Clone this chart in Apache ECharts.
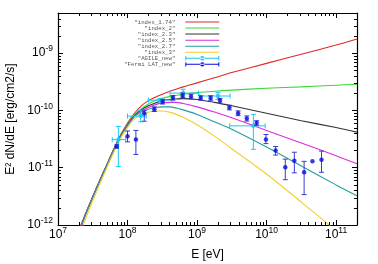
<!DOCTYPE html>
<html><head><meta charset="utf-8">
<script src="https://cdn.jsdelivr.net/npm/echarts@6/dist/echarts.min.js"></script>
<style>html,body{margin:0;padding:0;background:#fff}#c{width:378px;height:264px}</style>
</head><body><div id="c"></div>
<script>
// ---- data ----
const energy = [2.0e7,2.24e7,2.51e7,3.16e7,3.98e7,5.01e7,6.31e7,7.94e7,1.0e8,1.26e8,1.58e8,2.0e8,2.51e8,3.16e8,3.98e8,5.01e8,6.31e8,1.0e9,1.78e9,3.16e9,1.0e10,3.16e10,1.0e11,2.0e11];
const index174 = [8.32e-13,1.15e-12,1.62e-12,3.16e-12,6.03e-12,1.12e-11,2.09e-11,3.72e-11,6.03e-11,8.91e-11,1.20e-10,1.48e-10,1.70e-10,1.91e-10,2.14e-10,2.34e-10,2.57e-10,3.02e-10,3.72e-10,4.57e-10,6.61e-10,9.55e-10,1.38e-9,1.76e-9];
const index2   = [7.76e-13,1.10e-12,1.58e-12,3.09e-12,5.89e-12,1.10e-11,2.04e-11,3.63e-11,5.75e-11,8.32e-11,1.07e-10,1.29e-10,1.48e-10,1.62e-10,1.74e-10,1.82e-10,1.91e-10,2.04e-10,2.16e-10,2.26e-10,2.43e-10,2.57e-10,2.75e-10,2.86e-10];
const index23  = [7.70e-13,1.09e-12,1.57e-12,3.07e-12,5.86e-12,1.09e-11,2.03e-11,3.60e-11,5.62e-11,8.13e-11,1.02e-10,1.20e-10,1.35e-10,1.48e-10,1.55e-10,1.58e-10,1.60e-10,1.55e-10,1.38e-10,1.20e-10,8.91e-11,6.61e-11,5.01e-11,4.17e-11];
const index25  = [7.60e-13,1.08e-12,1.56e-12,3.05e-12,5.82e-12,1.08e-11,2.01e-11,3.57e-11,5.50e-11,7.94e-11,9.77e-11,1.12e-10,1.26e-10,1.35e-10,1.38e-10,1.38e-10,1.32e-10,1.15e-10,9.33e-11,7.41e-11,4.47e-11,2.69e-11,1.62e-11,1.17e-11];
const index27  = [7.50e-13,1.07e-12,1.55e-12,3.03e-12,5.78e-12,1.07e-11,2.00e-11,3.54e-11,5.37e-11,7.76e-11,9.33e-11,1.05e-10,1.12e-10,1.15e-10,1.15e-10,1.10e-10,1.02e-10,8.51e-11,6.31e-11,4.68e-11,2.29e-11,1.07e-11,5.01e-12,3.24e-12];
const index3   = [6.31e-13,8.91e-13,1.32e-12,2.63e-12,5.13e-12,9.77e-12,1.82e-11,3.24e-11,5.01e-11,7.08e-11,8.51e-11,9.33e-11,9.77e-11,9.77e-11,9.33e-11,8.51e-11,7.59e-11,5.62e-11,3.55e-11,2.14e-11,7.76e-12,2.51e-12,7.94e-13,3.98e-13];

const agileE   = [7.38e7,1.55e8,2.95e8,6.31e8,2.0e9,6.46e9];
const agileELo = [6.03e7,1.0e8,2.0e8,4.07e8,1.1e9,2.95e9];
const agileEHi = [9.44e7,1.86e8,4.37e8,1.05e9,2.99e9,9.55e9];
const agileF   = [3.09e-11,7.94e-11,1.51e-10,2.0e-10,1.78e-10,5.37e-11];
const agileFLo = [1.05e-11,6.31e-11,1.41e-10,1.70e-10,1.55e-10,2.09e-11];
const agileFHi = [5.25e-11,1.0e-10,1.62e-10,2.34e-10,2.04e-10,8.51e-11];

const fermiE  = [7.0e7,1.0e8,1.32e8,1.74e8,2.43e8,3.2e8,4.5e8,6.2e8,8.2e8,1.13e9,1.57e9,2.14e9,2.92e9,3.9e9,5.2e9,7.2e9,9.8e9,1.35e10,1.86e10,2.51e10,3.47e10,4.57e10,6.17e10];
const fermiF  = [2.34e-11,3.55e-11,3.09e-11,8.91e-11,1.05e-10,1.41e-10,1.66e-10,1.82e-10,1.74e-10,1.64e-10,1.64e-10,1.48e-10,1.12e-10,8.91e-11,7.24e-11,6.03e-11,3.09e-11,2.0e-11,1.02e-11,1.32e-11,8.32e-12,1.29e-11,1.38e-11];
const fermiLo = [2.2e-11,2.82e-11,1.70e-11,6.46e-11,9.55e-11,1.29e-10,1.51e-10,1.66e-10,1.58e-10,1.50e-10,1.50e-10,1.35e-10,1.02e-10,8.1e-11,6.5e-11,5.5e-11,2.63e-11,1.66e-11,6.17e-12,8.13e-12,3.39e-12,1.29e-11,8.32e-12];
const fermiHi = [2.5e-11,4.37e-11,4.47e-11,1.0e-10,1.15e-10,1.55e-10,1.82e-10,2.0e-10,1.91e-10,1.80e-10,1.80e-10,1.62e-10,1.23e-10,9.8e-11,8.0e-11,6.6e-11,3.8e-11,2.34e-11,1.41e-11,1.86e-11,1.29e-11,1.29e-11,1.95e-11];

const xDecades = [1e7,1e8,1e9,1e10,1e11];
const yDecades = [1e-12,1e-11,1e-10,1e-9];
const minorMult = [2,3,4,5,6,7,8,9];

const modelNames  = ['"index_1.74"','"index_2"','"index_2.3"','"index_2.5"','"index_2.7"','"index_3"'];
const modelValues = [index174,index2,index23,index25,index27,index3];
const modelColors = ['#e02828','#3ad83a','#333333','#dc2edc','#259e9e','#f2d02a'];
const AGILE_NAME = '"AGILE_new"', FERMI_NAME = '"Fermi LAT_new"';
const AGILE_COLOR = '#18c8f0', FERMI_COLOR = '#0a0ae6', FERMI_BAR = '#3a3ad0';

// ---- chart ----
const X_MIN = 1e7, X_MAX = 2e11, Y_MIN = 1e-12, Y_MAX = 5e-9;
const FONT = 'Liberation Sans';
function powLabel(v){
  const e = Math.log10(v), r = Math.round(e);
  if (Math.abs(e - r) > 1e-6) return '';
  return '{b|10}{s|' + r + '}';
}
const rich = {
  b:{fontSize:12, fontFamily:FONT, color:'#000', lineHeight:14},
  s:{fontSize:8.5, fontFamily:FONT, color:'#000', lineHeight:10, padding:[0,0,8,0]}
};

const minorX = [], minorY = [];
xDecades.forEach(d => minorMult.forEach(m => { const v = d*m; if (v < X_MAX) minorX.push([v, Y_MIN]); }));
yDecades.forEach(d => minorMult.forEach(m => { const v = d*m; if (v < Y_MAX) minorY.push([X_MIN, v]); }));

const tickStyle = {stroke:'#000', lineWidth:1};
function minorXRender(params, api){
  const cs = params.coordSys, p = api.coord([api.value(0), api.value(1)]);
  const x = Math.round(p[0]) + 0.5, b = cs.y + cs.height, t = cs.y;
  return {type:'group', children:[
    {type:'line', shape:{x1:x, y1:b, x2:x, y2:b-3}, style:tickStyle},
    {type:'line', shape:{x1:x, y1:t, x2:x, y2:t+3}, style:tickStyle}]};
}
function minorYRender(params, api){
  const cs = params.coordSys, p = api.coord([api.value(0), api.value(1)]);
  const y = Math.round(p[1]) + 0.5, l = cs.x, r = cs.x + cs.width;
  return {type:'group', children:[
    {type:'line', shape:{x1:l, y1:y, x2:l+3, y2:y}, style:tickStyle},
    {type:'line', shape:{x1:r, y1:y, x2:r-3, y2:y}, style:tickStyle}]};
}
function fermiBarRender(params, api){
  const x = api.value(0), lo = api.value(2), hi = api.value(3);
  if (lo === hi) return null;
  const a = api.coord([x, lo]), b = api.coord([x, hi]), c = 2.5;
  const st = {stroke:FERMI_BAR, lineWidth:1};
  return {type:'group', children:[
    {type:'line', shape:{x1:a[0], y1:a[1], x2:b[0], y2:b[1]}, style:st},
    {type:'line', shape:{x1:a[0]-c, y1:a[1], x2:a[0]+c, y2:a[1]}, style:st},
    {type:'line', shape:{x1:b[0]-c, y1:b[1], x2:b[0]+c, y2:b[1]}, style:st}]};
}
function agileBarRender(params, api){
  const x = api.value(0), y = api.value(1);
  const l = api.coord([api.value(2), y]), r = api.coord([api.value(3), y]);
  const lo = api.coord([x, api.value(4)]), hi = api.coord([x, api.value(5)]), c = 2.5;
  const st = {stroke:AGILE_COLOR, lineWidth:1};
  return {type:'group', children:[
    {type:'line', shape:{x1:l[0], y1:l[1], x2:r[0], y2:r[1]}, style:st},
    {type:'line', shape:{x1:l[0], y1:l[1]-c, x2:l[0], y2:l[1]+c}, style:st},
    {type:'line', shape:{x1:r[0], y1:r[1]-c, x2:r[0], y2:r[1]+c}, style:st},
    {type:'line', shape:{x1:lo[0], y1:lo[1], x2:hi[0], y2:hi[1]}, style:st},
    {type:'line', shape:{x1:lo[0]-c, y1:lo[1], x2:lo[0]+c, y2:lo[1]}, style:st},
    {type:'line', shape:{x1:hi[0]-c, y1:hi[1], x2:hi[0]+c, y2:hi[1]}, style:st}]};
}

const series = [];
modelNames.forEach((n, i) => {
  series.push({type:'line', name:n, data: energy.map((e, j) => [e, modelValues[i][j]]),
    showSymbol:false, symbol:'none', smooth:0.3, clip:true, silent:true, z:2,
    itemStyle:{color:modelColors[i]}, lineStyle:{color:modelColors[i], width:1.1}});
});
series.push({type:'custom', name:AGILE_NAME, renderItem:agileBarRender, z:3, silent:true, clip:true,
  itemStyle:{color:AGILE_COLOR}, encode:{x:0, y:1},
  data: agileE.map((e, i) => [e, agileF[i], agileELo[i], agileEHi[i], agileFLo[i], agileFHi[i]])});
series.push({type:'scatter', name:AGILE_NAME, symbol:'circle', symbolSize:4.5, z:4, silent:true,
  itemStyle:{color:AGILE_COLOR}, data: agileE.map((e, i) => [e, agileF[i]])});
series.push({type:'custom', name:FERMI_NAME, renderItem:fermiBarRender, z:5, silent:true, clip:true,
  itemStyle:{color:FERMI_COLOR}, encode:{x:0, y:1},
  data: fermiE.map((e, i) => [e, fermiF[i], fermiLo[i], fermiHi[i]])});
series.push({type:'scatter', name:FERMI_NAME, symbol:'circle', symbolSize:4.5, z:6, silent:true,
  itemStyle:{color:FERMI_COLOR}, data: fermiE.map((e, i) => [e, fermiF[i]])});
series.push({type:'custom', renderItem:minorXRender, data:minorX, encode:{x:0,y:1}, silent:true, clip:false, z:10});
series.push({type:'custom', renderItem:minorYRender, data:minorY, encode:{x:0,y:1}, silent:true, clip:false, z:10});

const anchor = 'M0,0h0.01v0.01h-0.01zM33.99,5.99h0.01v0.01h-0.01z';
const lineIcon = 'path://' + anchor + 'M0,2.5h34v1h-34z';
const barIcon  = 'path://' + anchor + 'M0,2.5h34v1h-34zM0,0.8h1v4.4h-1zM33,0.8h1v4.4h-1zM14.8,3a2.2,2.2 0 1,0 4.4,0a2.2,2.2 0 1,0 -4.4,0z';

const legendData = modelNames.map((n, i) => ({name:n, icon:lineIcon, itemStyle:{color:modelColors[i]}}))
  .concat([{name:AGILE_NAME, icon:barIcon, itemStyle:{color:AGILE_COLOR}},
           {name:FERMI_NAME, icon:barIcon, itemStyle:{color:FERMI_COLOR}}]);

const axisCommon = {
  type:'log', logBase:10,
  axisLine:{show:true, lineStyle:{color:'#000', width:1.2}},
  axisTick:{show:true, inside:true, length:5, lineStyle:{color:'#000', width:1}},
  splitLine:{show:false}, minorTick:{show:false}, minorSplitLine:{show:false}
};

const option = {
  animation:false,
  backgroundColor:'#fff',
  grid:{left:58, right:21, top:13, bottom:39, containLabel:false, outerBoundsMode:'none'},
  legend:{
    data:legendData, orient:'vertical', align:'right', right:158.7, top:19, padding:0,
    itemWidth:34, itemHeight:6, itemGap:0.05, selectedMode:false,
    textStyle:{fontFamily:'Liberation Mono', fontSize:5.7, color:'#555', lineHeight:6, padding:[0,5,0,0]}
  },
  xAxis:[
    Object.assign({}, axisCommon, {position:'bottom', min:X_MIN, max:X_MAX,
      name:'E [eV]', nameLocation:'middle', nameGap:23,
      nameTextStyle:{fontFamily:FONT, fontSize:12, color:'#000'},
      axisLabel:{show:true, margin:3, formatter:powLabel, rich:rich, showMaxLabel:false}}),
    Object.assign({}, axisCommon, {position:'top', min:X_MIN, max:X_MAX, axisLabel:{show:false}})
  ],
  yAxis:[
    Object.assign({}, axisCommon, {position:'left', min:Y_MIN, max:Y_MAX,
      name:'E² dN/dE [erg/cm2/s]', nameLocation:'middle', nameGap:41,
      nameTextStyle:{fontFamily:FONT, fontSize:12, color:'#000'},
      axisLabel:{show:true, margin:5, formatter:powLabel, rich:rich, showMaxLabel:false}}),
    Object.assign({}, axisCommon, {position:'right', min:Y_MIN, max:Y_MAX, axisLabel:{show:false}})
  ],
  series:series
};
const chart = echarts.init(document.getElementById('c'), null, {renderer:'canvas'});
chart.setOption(option);
</script>
</body></html>
